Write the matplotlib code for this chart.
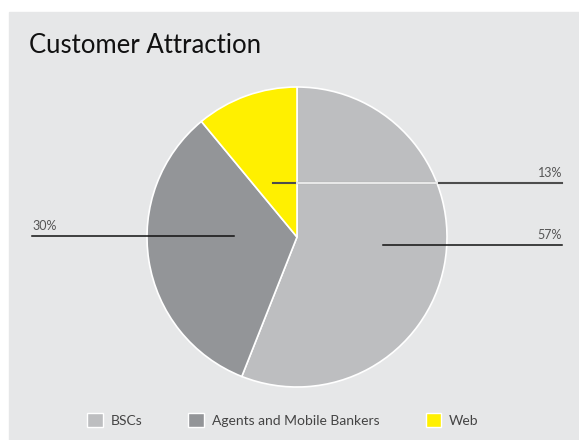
import matplotlib.pyplot as plt
from matplotlib.patches import Rectangle, Patch

plt.rcParams['font.family'] = ['Lato', 'DejaVu Sans']

# slice shares as drawn, printed labels, names and colours
categories = ['BSCs', 'Agents and Mobile Bankers', 'Web']
shares = [56, 33, 11]
labels = ['57%', '30%', '13%']
colors = ['#bdbec0', '#939598', '#fff000']

W, H = 579, 440
fig = plt.figure(figsize=(W / 100, H / 100), dpi=100)
ax = fig.add_axes([0, 0, 1, 1])

# grey panel
ax.add_patch(Rectangle((9, 0), W - 9, H - 12, color='#e6e7e8', zorder=0))

ax.text(29, H - 53, 'Customer Attraction', fontsize=18.5, color='#111111',
        va='baseline', ha='left')

cx, cy, r = 297, H - 237, 150
ax.pie(shares, colors=colors, startangle=90, counterclock=False,
       center=(cx, cy), radius=r, frame=True,
       wedgeprops=dict(edgecolor='white', linewidth=1.2))
ax.set_xlim(0, W)
ax.set_ylim(0, H)
ax.set_aspect('equal')
ax.axis('off')

# leader lines and labels
y57 = H - 245
ax.plot([383, 562], [y57, y57], color='#111111', lw=1.1, zorder=5)
ax.text(562, y57 + 4, labels[0], ha='right', va='bottom', fontsize=9,
        color='#555555')

y30 = H - 236
ax.plot([32, 234], [y30, y30], color='#111111', lw=1.1, zorder=5)
ax.text(32, y30 + 4, labels[1], ha='left', va='bottom', fontsize=9,
        color='#555555')

y13 = H - 183
ax.plot([273, 562], [y13, y13], color='#4d4d4d', lw=1.5, zorder=5)
ax.plot([297, 437], [y13, y13], color='#e8e8e8', lw=1.5, zorder=6)
ax.text(562, y13 + 4, labels[2], ha='right', va='bottom', fontsize=9,
        color='#555555')

handles = [Patch(facecolor=c, edgecolor='white', linewidth=1) for c in colors]
ax.legend(handles, categories, loc='center', bbox_to_anchor=(283 / W, 20 / H),
          ncol=3, frameon=False, fontsize=10, handlelength=1.1, handleheight=1.1,
          handletextpad=0.6, columnspacing=3.3, labelcolor='#444444')

fig.savefig('out.png', dpi=100, facecolor='white')
